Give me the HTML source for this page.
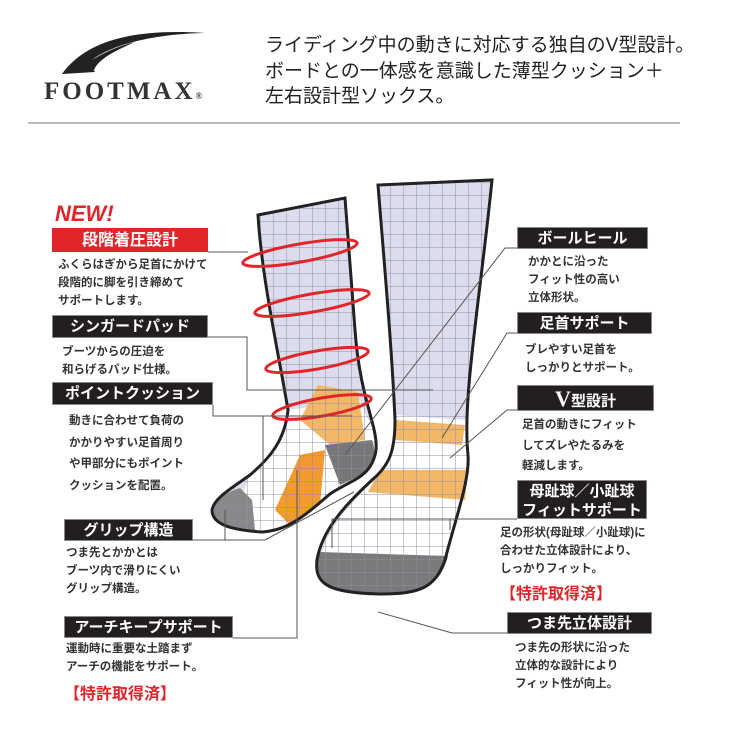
<!DOCTYPE html>
<html><head><meta charset="utf-8"><style>
html,body{margin:0;padding:0;background:#fff;}
body{width:740px;height:740px;position:relative;overflow:hidden;font-family:"Liberation Sans","Noto Sans CJK JP",sans-serif;}
.t{position:absolute;white-space:nowrap;}
.box{position:absolute;background:#231f20;color:#fff;font-weight:bold;font-size:15px;text-align:center;line-height:22px;border:1px solid #888;box-sizing:border-box;}
.d{position:absolute;font-size:11.5px;font-weight:bold;color:#333;line-height:18px;white-space:nowrap;}
.red{color:#e0262b;font-size:16px;font-weight:bold;position:absolute;white-space:nowrap;}
</style></head><body>
<svg width="740" height="740" style="position:absolute;left:0;top:0">
<defs>
<pattern id="g" width="13" height="13" patternUnits="userSpaceOnUse">
<path d="M0 0H13M0 0V13" stroke="#8f8fa8" stroke-width="1" fill="none"/>
</pattern>
</defs>
<!-- logo swoosh -->
<path d="M62 74 C85 42 130 28 205 33 C150 34 110 46 92 60 C105 52 118 46 135 42 C112 52 98 60 94 70 Z" fill="#222"/>
<path d="M62 74 L95 72 L84 56 Z" fill="#222"/>
<line x1="28" y1="123" x2="680" y2="123" stroke="#bbb" stroke-width="2"/>
<!-- right sock -->
<path d="M378 185 C384 260 392 350 395 420 C395 450 390 465 372 480 C345 505 322 530 317 560 C314 585 330 593 380 594 C420 594 435 588 445 560 C455 520 470 480 468 455 C462 400 480 300 492 180 Z" fill="#dcdcec"/>
<path d="M395 415 L465 420 L470 470 L460 520 L448 556 L322 552 C330 525 350 505 372 482 Z" fill="#fff"/>
<path d="M395 420 L465 425 L462 445 L395 440 Z" fill="#f3b867"/>
<path d="M380 470 L468 470 L465 500 L368 492 Z" fill="#f3b867"/>
<path d="M318 552 L448 556 C440 585 425 594 380 594 C330 593 314 585 318 552 Z" fill="#7a7a7a"/>
<path d="M378 185 C384 260 392 350 395 420 C395 450 390 465 372 480 C345 505 322 530 317 560 C314 585 330 593 380 594 C420 594 435 588 445 560 C455 520 470 480 468 455 C462 400 480 300 492 180 Z" fill="url(#g)" stroke="#222" stroke-width="3"/>
<!-- left sock -->
<path d="M258 215 C262 280 278 350 288 410 C285 440 270 458 250 475 C232 488 214 498 212 510 C212 524 230 530 262 532 C290 530 305 515 330 494 C350 480 372 478 376 450 C378 425 360 400 355 330 L345 198 Z" fill="#dcdcec"/>
<path d="M288 410 L360 400 C366 420 378 430 376 450 C372 478 350 480 330 494 C305 515 290 530 262 532 L232 522 L250 475 C270 458 285 440 288 410 Z" fill="#fff"/>
<path d="M318 385 L358 392 L365 440 L330 445 L300 420 Z" fill="#f3b867"/>
<path d="M300 455 L325 450 L320 505 L290 525 L275 510 Z" fill="#f29a2e"/>
<path d="M325 445 L372 440 C378 455 372 470 355 478 L340 485 Z" fill="#777"/>
<path d="M212 510 C214 498 228 492 240 488 L252 500 L255 530 C230 530 212 524 212 510 Z" fill="#888"/>
<path d="M258 215 C262 280 278 350 288 410 C285 440 270 458 250 475 C232 488 214 498 212 510 C212 524 230 530 262 532 C290 530 305 515 330 494 C350 480 372 478 376 450 C378 425 360 400 355 330 L345 198 Z" fill="url(#g)" stroke="#222" stroke-width="3"/>
<!-- red rings -->
<g fill="none" stroke="#e0262b" stroke-width="3">
<ellipse cx="300" cy="253" rx="58" ry="9" transform="rotate(-10 300 253)"/>
<ellipse cx="312" cy="303" rx="58" ry="9" transform="rotate(-10 312 303)"/>
<ellipse cx="317" cy="360" rx="52" ry="9" transform="rotate(-10 317 360)"/>
<ellipse cx="322" cy="407" rx="50" ry="9" transform="rotate(-10 322 407)"/>
</g>
<!-- connectors -->
<g fill="none" stroke="#555" stroke-width="1">
<polyline points="208,252 248,252"/>
<polyline points="208,337 247,337 247,390 433,390"/>
<polyline points="213,405 213,416 352,416"/>
<polyline points="263,416 263,500"/>
<polyline points="193,540 265,540 354,492"/>
<polyline points="225,540 225,510"/>
<polyline points="233,638 297,638 297,470"/>
<polyline points="517,248 505,248 345,455"/>
<polyline points="517,333 507,333 442,438"/>
<polyline points="517,410 507,410 450,458"/>
<polyline points="517,519 332,519 332,548"/>
<polyline points="450,519 450,530"/>
<polyline points="507,633 452,633 378,612"/>
</g>
</svg>
<div class="t" style="left:44px;top:78px;font-family:'Liberation Serif',serif;font-size:25px;letter-spacing:3px;color:#333;font-weight:bold;">FOOTMAX<span style="font-size:9px;letter-spacing:0">®</span></div>
<div class="t" style="left:265px;top:33px;font-size:19px;line-height:25.5px;color:#222;">ライディング中の動きに対応する独自のV型設計。<br>ボードとの一体感を意識した薄型クッション＋<br>左右設計型ソックス。</div>

<div class="t" style="left:55px;top:201px;font-size:22px;font-weight:bold;font-style:italic;color:#e0262b;">NEW!</div>
<div class="box" style="left:52px;top:228px;width:156px;height:24px;background:#e0262b;border-color:#e0262b;font-size:16px;line-height:24px;">段階着圧設計</div>
<div class="d" style="left:58px;top:256px;">ふくらはぎから足首にかけて<br>段階的に脚を引き締めて<br>サポートします。</div>
<div class="box" style="left:52px;top:315px;width:156px;height:23px;">シンガードパッド</div>
<div class="d" style="left:62px;top:343px;">ブーツからの圧迫を<br>和らげるパッド仕様。</div>
<div class="box" style="left:52px;top:382px;width:161px;height:23px;">ポイントクッション</div>
<div class="d" style="left:69px;top:411px;line-height:21.5px;">動きに合わせて負荷の<br>かかりやすい足首周り<br>や甲部分にもポイント<br>クッションを配置。</div>
<div class="box" style="left:64px;top:519px;width:129px;height:22px;">グリップ構造</div>
<div class="d" style="left:66px;top:544px;">つま先とかかとは<br>ブーツ内で滑りにくい<br>グリップ構造。</div>
<div class="box" style="left:64px;top:616px;width:169px;height:22px;">アーチキープサポート</div>
<div class="d" style="left:66px;top:640px;">運動時に重要な土踏まず<br>アーチの機能をサポート。</div>
<div class="red" style="left:64px;top:680px;">【特許取得済】</div>

<div class="box" style="left:517px;top:227px;width:131px;height:22px;">ボールヒール</div>
<div class="d" style="left:528px;top:253px;">かかとに沿った<br>フィット性の高い<br>立体形状。</div>
<div class="box" style="left:517px;top:312px;width:135px;height:22px;">足首サポート</div>
<div class="d" style="left:525px;top:341px;">ブレやすい足首を<br>しっかりとサポート。</div>
<div class="box" style="left:517px;top:385px;width:137px;height:26px;line-height:26px;"><span style="font-family:'Liberation Serif',serif;font-size:22px;">V</span>型設計</div>
<div class="d" style="left:522px;top:415px;line-height:20.5px;">足首の動きにフィット<br>してズレやたるみを<br>軽減します。</div>
<div class="box" style="left:517px;top:480px;width:130px;height:39px;line-height:19px;padding-top:1px;">母趾球／小趾球<br>フィットサポート</div>
<div class="d" style="left:500px;top:524px;">足の形状(母趾球／小趾球)に<br>合わせた立体設計により、<br>しっかりフィット。</div>
<div class="red" style="left:500px;top:580px;">【特許取得済】</div>
<div class="box" style="left:507px;top:612px;width:145px;height:22px;">つま先立体設計</div>
<div class="d" style="left:515px;top:639px;">つま先の形状に沿った<br>立体的な設計により<br>フィット性が向上。</div>
</body></html>
